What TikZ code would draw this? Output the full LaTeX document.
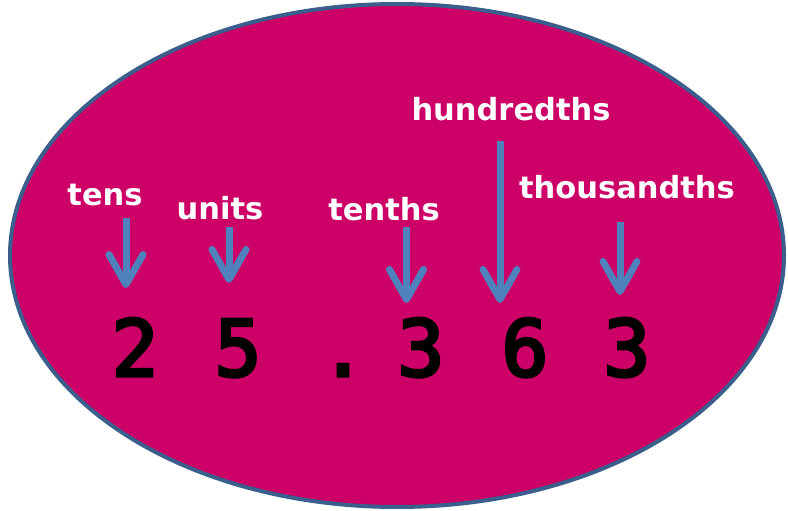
\documentclass[tikz,border=0pt]{standalone}
\usepackage{fontspec}
\setmainfont{DejaVu Sans}
\newfontfamily\labfont{DejaVu Sans}
\newfontfamily\digfont[FakeBold=4]{DejaVu Sans Mono}
\usetikzlibrary{arrows.meta}
\definecolor{magent}{HTML}{CC0066}
\definecolor{rimblue}{HTML}{3A5F8C}
\definecolor{arrblue}{HTML}{4F81BD}
\tikzset{
  lab/.style={text=white, font=\labfont\bfseries\fontsize{30.5}{30.5}\selectfont, inner sep=0pt, anchor=base},
  dig/.style={text=black, font=\digfont\fontsize{78}{78}\selectfont, inner sep=0pt, anchor=base},
  pointer/.style={draw=arrblue, line width=7pt, -{Straight Barb[length=30pt,width=34pt,line cap=round,line join=round]}},
}
\begin{document}
\begin{tikzpicture}[x=1pt,y=-1pt]
\useasboundingbox (0,0) rectangle (788,511);
\draw[fill=magent, draw=rimblue, line width=4pt] (397,255.5) ellipse [x radius=387, y radius=251.5];
% labels
\node[lab] (tens) at (105,205) {tens};
\node[lab] (units) at (220,219) {units};
\node[lab] (tenths) at (384,220) {tenths};
\node[lab] (hund) at (511,121) {hundredths};
\node[lab] (thou) at (627,198) {thousandths};
% digits
\node[dig] (d1) at (135,376) {2};
\node[dig] (d2) at (238,376) {5};
\node[dig] (dp) at (343,376) {.};
\node[dig] (d3) at (421,376) {3};
\node[dig] (d4) at (525,376) {6};
\node[dig] (d5) at (627,376) {3};
% arrow ends
\coordinate (a1s) at (126,218); \coordinate (a1e) at (126,288);
\coordinate (a2s) at (229,227); \coordinate (a2e) at (229,283);
\coordinate (a3s) at (406.5,227); \coordinate (a3e) at (406.5,303);
\coordinate (a4s) at (500,141); \coordinate (a4e) at (500,303);
\coordinate (a5s) at (620,222); \coordinate (a5e) at (620,295);
\draw[pointer] (a1s) -- (a1e);
\draw[pointer] (a2s) -- (a2e);
\draw[pointer] (a3s) -- (a3e);
\draw[pointer] (a4s) -- (a4e);
\draw[pointer] (a5s) -- (a5e);
\end{tikzpicture}
\end{document}
